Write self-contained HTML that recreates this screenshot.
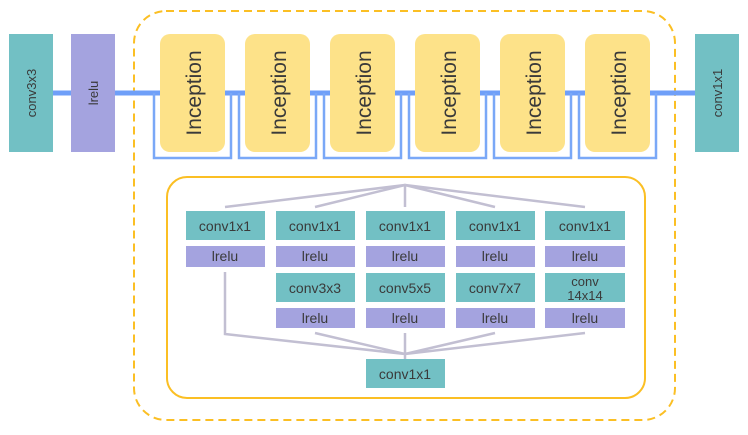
<!DOCTYPE html>
<html><head><style>
body{margin:0;background:#fff;}
svg text{font-family:"Liberation Sans",sans-serif;fill:#3a3a3a;}
</style></head><body>
<svg width="748" height="430" viewBox="0 0 748 430" xmlns="http://www.w3.org/2000/svg">
<rect x="134" y="11" width="541" height="409" rx="32" fill="none" stroke="#fbbf24" stroke-width="2" stroke-dasharray="8,5"/>
<line x1="53" y1="93" x2="695" y2="93" stroke="#6f9ff8" stroke-width="5"/>
<g fill="none" stroke="#7aa8f7" stroke-width="2.5">
<path d="M154 93V158H231V93"/><path d="M239 93V158H316V93"/><path d="M324 93V158H401V93"/>
<path d="M409 93V158H486V93"/><path d="M494 93V158H571V93"/><path d="M579 93V158H656V93"/>
</g>
<rect x="9" y="34" width="44" height="118" fill="#72c0c4"/>
<rect x="71" y="34" width="44" height="118" fill="#a4a3df"/>
<rect x="695" y="34" width="44" height="118" fill="#72c0c4"/>
<text transform="translate(36,93) rotate(-90)" text-anchor="middle" font-size="13">conv3x3</text>
<text transform="translate(98,93) rotate(-90)" text-anchor="middle" font-size="13">lrelu</text>
<text transform="translate(722,93) rotate(-90)" text-anchor="middle" font-size="13">conv1x1</text>
<g fill="#fde289">
<rect x="160" y="34" width="65" height="118" rx="10"/><rect x="245" y="34" width="65" height="118" rx="10"/>
<rect x="330" y="34" width="65" height="118" rx="10"/><rect x="415" y="34" width="65" height="118" rx="10"/>
<rect x="500" y="34" width="65" height="118" rx="10"/><rect x="585" y="34" width="65" height="118" rx="10"/>
</g>
<g font-size="21" text-anchor="middle">
<text transform="translate(201,93) rotate(-90)">Inception</text>
<text transform="translate(286,93) rotate(-90)">Inception</text>
<text transform="translate(371,93) rotate(-90)">Inception</text>
<text transform="translate(456,93) rotate(-90)">Inception</text>
<text transform="translate(541,93) rotate(-90)">Inception</text>
<text transform="translate(626,93) rotate(-90)">Inception</text>
</g>
<rect x="167" y="177" width="478" height="221" rx="20" fill="none" stroke="#fbbf24" stroke-width="2"/>
<g stroke="#c2bfd2" stroke-width="2.5" fill="none">
<path d="M225 207L405 185L315 207M405 185V207M405 185L495 207M405 185L585 207"/>
<path d="M225 272V334L405 354L315 333M405 354V333M405 354L495 333M405 354L585 333M405 354V359"/>
</g>
<g fill="#72c0c4">
<rect x="186" y="211" width="79" height="29"/><rect x="276" y="211" width="79" height="29"/><rect x="366" y="211" width="79" height="29"/><rect x="456" y="211" width="79" height="29"/><rect x="545" y="211" width="80" height="29"/>
<rect x="276" y="273" width="79" height="29"/><rect x="366" y="273" width="79" height="29"/><rect x="456" y="273" width="79" height="29"/><rect x="545" y="273" width="80" height="29"/>
<rect x="366" y="359" width="79" height="29"/>
</g>
<g fill="#a4a3df">
<rect x="186" y="246" width="79" height="21"/><rect x="276" y="246" width="79" height="21"/><rect x="366" y="246" width="79" height="21"/><rect x="456" y="246" width="79" height="21"/><rect x="545" y="246" width="80" height="21"/>
<rect x="276" y="308" width="79" height="20"/><rect x="366" y="308" width="79" height="20"/><rect x="456" y="308" width="79" height="20"/><rect x="545" y="308" width="80" height="20"/>
</g>
<g font-size="14" text-anchor="middle">
<text x="225" y="231">conv1x1</text><text x="315" y="231">conv1x1</text><text x="405" y="231">conv1x1</text><text x="495" y="231">conv1x1</text><text x="585" y="231">conv1x1</text>
<text x="225" y="261">lrelu</text><text x="315" y="261">lrelu</text><text x="405" y="261">lrelu</text><text x="495" y="261">lrelu</text><text x="585" y="261">lrelu</text>
<text x="315" y="293">conv3x3</text><text x="405" y="293">conv5x5</text><text x="495" y="293">conv7x7</text>
<text x="585" y="286" font-size="13">conv</text><text x="585" y="300" font-size="13">14x14</text>
<text x="315" y="323">lrelu</text><text x="405" y="323">lrelu</text><text x="495" y="323">lrelu</text><text x="585" y="323">lrelu</text>
<text x="405" y="379">conv1x1</text>
</g>
</svg>
</body></html>
